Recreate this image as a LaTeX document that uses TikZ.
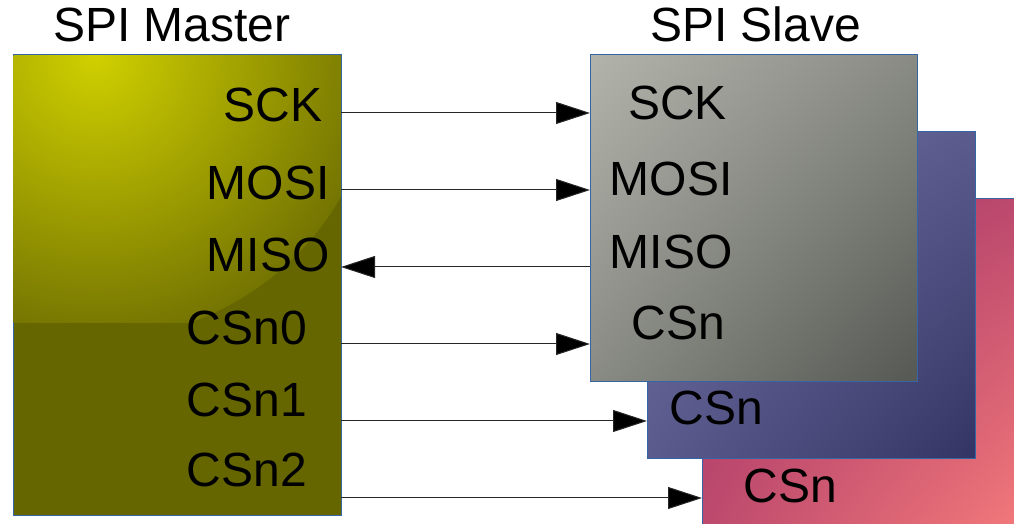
\documentclass[tikz,border=0pt]{standalone}
\usepackage{fontspec}
\setmainfont{Liberation Sans}
\usetikzlibrary{arrows.meta,shadings}
\definecolor{bordc}{RGB}{52,101,164}
\definecolor{olivebg}{RGB}{102,102,0}
\definecolor{olivein}{RGB}{208,208,0}
\definecolor{oliveout}{RGB}{116,116,2}
\definecolor{greyA}{RGB}{178,180,172}
\definecolor{greyB}{RGB}{86,88,83}
\definecolor{purA}{RGB}{114,114,166}
\definecolor{purB}{RGB}{52,52,100}
\definecolor{pinkA}{RGB}{163,51,104}
\definecolor{pinkB}{RGB}{244,122,122}
\tikzset{
  box/.style={draw=bordc, line width=0.9pt, rectangle, inner sep=0pt, anchor=south west},
  lbl/.style={inner sep=0pt, anchor=base west, font=\fontsize{48}{58}\selectfont},
  arr/.style={line width=1pt, draw=black!85, -{Triangle[length=34pt,width=22pt,fill=black]}}
}
\begin{document}
\begin{tikzpicture}[x=1pt,y=1pt]
\useasboundingbox (0,0) rectangle (1014,524);
\clip (0,0) rectangle (1014,524);
% slave boxes (back to front)
\node[box, minimum width=327pt, minimum height=328pt,
  upper left=pinkA, lower right=pinkB,
  upper right={pinkA!68!pinkB}, lower left={pinkA!68!pinkB}] (s3) at (702,-3) {};
\node[box, minimum width=328pt, minimum height=327pt,
  upper left=purA, lower right=purB,
  upper right={purA!62!purB}, lower left={purA!62!purB}] (s2) at (647,65) {};
\node[box, minimum width=327pt, minimum height=327pt,
  upper left=greyA, lower right=greyB,
  upper right={greyA!55!greyB}, lower left={greyA!55!greyB}] (s1) at (590,142) {};
% master box
\node[box, fill=olivebg, minimum width=328pt, minimum height=461pt] (m) at (13,8) {};
\begin{scope}
  \clip (13.5,201) rectangle (340.5,468.5);
  \clip (95,469) circle (284);
  \shade[inner color=olivein, outer color=oliveout] (95,469) circle (284);
\end{scope}
% titles
\node[lbl] (tm) at (53,482) {SPI Master};
\node[lbl] (ts) at (650,482) {SPI Slave};
% master labels
\node[lbl] (msck) at (223.5,402) {SCK};
\node[lbl] (mmosi) at (206.5,324) {MOSI};
\node[lbl] (mmiso) at (206.5,252) {MISO};
\node[lbl] (mcs0) at (186.5,179) {CSn0};
\node[lbl] (mcs1) at (186.5,107) {CSn1};
\node[lbl] (mcs2) at (186.5,37) {CSn2};
% slave labels
\node[lbl] (ssck) at (628,404.5) {SCK};
\node[lbl] (smosi) at (609.5,328) {MOSI};
\node[lbl] (smiso) at (609.5,255) {MISO};
\node[lbl] (scs1) at (631.6,184) {CSn};
\node[lbl] (scs2) at (669.6,99) {CSn};
\node[lbl] (scs3) at (743.6,21) {CSn};
% connectors
\coordinate (c1) at (341,411);
\coordinate (c2) at (341,334);
\coordinate (c3) at (341,257);
\coordinate (c4) at (341,180);
\coordinate (c5) at (341,103);
\coordinate (c6) at (341,26);
\draw[arr] (c1) -- (s1.west |- c1);
\draw[arr] (c2) -- (s1.west |- c2);
\draw[arr] (s1.west |- c3) -- (c3);
\draw[arr] (c4) -- (s1.west |- c4);
\draw[arr] (c5) -- (s2.west |- c5);
\draw[arr] (c6) -- (s3.west |- c6);
\end{tikzpicture}
\end{document}
